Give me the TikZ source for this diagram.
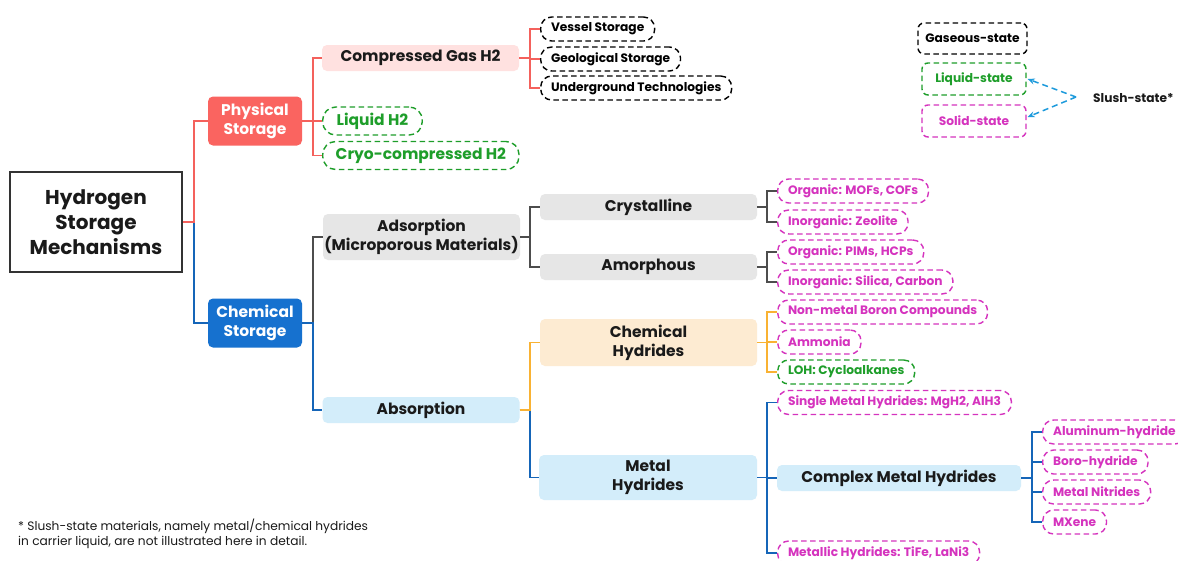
\documentclass[tikz,border=0pt]{standalone}
\usepackage{fontspec}
\setmainfont{Poppins}
\usetikzlibrary{arrows.meta}
\definecolor{cred}{HTML}{F4615C}
\definecolor{credbox}{HTML}{FA6460}
\definecolor{cpink}{HTML}{FFE1E0}
\definecolor{cblue}{HTML}{1671CF}
\definecolor{cbluel}{HTML}{1565B8}
\definecolor{clblue}{HTML}{D3EDFA}
\definecolor{cgray}{HTML}{4D4D4D}
\definecolor{clgray}{HTML}{E6E6E6}
\definecolor{corange}{HTML}{F9B233}
\definecolor{clorange}{HTML}{FDEBD2}
\definecolor{cgreen}{HTML}{1E9E2A}
\definecolor{cmag}{HTML}{D533BE}
\definecolor{cslush}{HTML}{1E9BDC}
\definecolor{ctext}{HTML}{1A1A1A}
\begin{document}
\begin{tikzpicture}[x=1pt,y=-1pt,
 every node/.style={inner sep=0pt},
 rootbox/.style={draw=black!80, line width=1.3pt, fill=white, minimum width=172, minimum height=100, align=center, text=ctext, font=\bfseries\fontsize{20}{25}\selectfont},
 lvone/.style={fill=#1, text=white, rounded corners=5pt, minimum width=94, minimum height=49, align=center, font=\bfseries\fontsize{15.5}{19}\selectfont},
 lvtwo/.style={fill=#1, rounded corners=5pt, align=center, text=ctext, font=\bfseries\fontsize{15.5}{19}\selectfont},
 leaf/.style={draw=#1, text=#1, dash pattern=on 5.5pt off 3.5pt, line width=1.4pt, rounded corners=11pt, minimum height=24, anchor=west, inner xsep=10.3pt, font=\bfseries\fontsize{12.2}{14}\selectfont},
 bigleaf/.style={leaf=#1, minimum height=28, rounded corners=13pt, inner xsep=14pt, font=\bfseries\fontsize{15.5}{19}\selectfont},
 legbox/.style={draw=#1, text=#1, dash pattern=on 5.5pt off 3.5pt, line width=1.4pt, rounded corners=6pt, font=\bfseries\fontsize{12.2}{14}\selectfont},
 link/.style={draw=#1, line width=1.8pt},
]
\fill[white] (0,0) rectangle (1178,560);
\useasboundingbox (0,0) rectangle (1178,560);

% nodes
\node[rootbox] (root) at (96,222) {Hydrogen\\Storage\\Mechanisms};
\node[lvone=credbox] (phys) at (255,121) {Physical\\Storage};
\node[lvone=cblue] (chem) at (255,323) {Chemical\\Storage};

\node[lvtwo=cpink, minimum width=197, minimum height=26] (cgas) at (420.5,58) {Compressed Gas H2};
\node[bigleaf=cgreen] (liq) at (322,121) {Liquid H2};
\node[bigleaf=cgreen, inner xsep=13pt] (cryo) at (322,155.5) {Cryo-compressed H2};
\node[leaf=black] (vessel) at (540,29) {Vessel Storage};
\node[leaf=black] (geo) at (540,59) {Geological Storage};
\node[leaf=black] (under) at (540,88) {Underground Technologies};

\node[lvtwo=clgray, minimum width=197, minimum height=46] (ads) at (421.5,237) {Adsorption\\(Microporous Materials)};
\node[lvtwo=clgray, minimum width=217, minimum height=26] (cryst) at (648.5,207) {Crystalline};
\node[lvtwo=clgray, minimum width=217, minimum height=26] (amor) at (648.5,267) {Amorphous};
\node[leaf=cmag] (mof) at (777,191) {Organic: MOFs, COFs};
\node[leaf=cmag] (zeo) at (777,222) {Inorganic: Zeolite};
\node[leaf=cmag] (pim) at (777,252) {Organic: PIMs, HCPs};
\node[leaf=cmag] (sil) at (777,282) {Inorganic: Silica, Carbon};

\node[lvtwo=clblue, minimum width=197, minimum height=26] (abso) at (421,410) {Absorption};
\node[lvtwo=clorange, minimum width=217, minimum height=47] (chyd) at (648.5,342.5) {Chemical\\Hydrides};
\node[leaf=cmag] (nonm) at (777,312) {Non-metal Boron Compounds};
\node[leaf=cmag] (amm) at (777,342) {Ammonia};
\node[leaf=cgreen] (loh) at (777,372) {LOH: Cycloalkanes};

\node[lvtwo=clblue, minimum width=218, minimum height=45] (mhyd) at (648,477.5) {Metal\\Hydrides};
\node[leaf=cmag] (smh) at (777,402.5) {Single Metal Hydrides: MgH2, AlH3};
\node[lvtwo=clblue, minimum width=244, minimum height=26] (cmh) at (899,478) {Complex Metal Hydrides};
\node[leaf=cmag] (mth) at (777,553) {Metallic Hydrides: TiFe, LaNi3};
\node[leaf=cmag] (alh) at (1042,432) {Aluminum-hydride};
\node[leaf=cmag] (boro) at (1042,462) {Boro-hydride};
\node[leaf=cmag] (mnit) at (1042,492) {Metal Nitrides};
\node[leaf=cmag] (mxe) at (1042,522) {MXene};

% legend
\node[legbox=black, minimum width=109, minimum height=31] (gas) at (972.5,38.5) {Gaseous-state};
\node[legbox=cgreen, minimum width=104, minimum height=32] (liqs) at (974,79) {Liquid-state};
\node[legbox=cmag, minimum width=104, minimum height=32] (sol) at (974,121) {Solid-state};
\node[anchor=west, text=ctext, font=\bfseries\fontsize{12.2}{14}\selectfont] (slush) at (1093,98) {Slush-state*};
\coordinate (sl) at (1076,97);
\draw[cslush, line width=1.5pt, dash pattern=on 6pt off 4pt, -{Stealth[length=7pt,width=6pt]}] (sl) -- ([xshift=1pt]liqs.east);
\draw[cslush, line width=1.5pt, dash pattern=on 6pt off 4pt, -{Stealth[length=7pt,width=6pt]}] (sl) -- ([xshift=1pt,yshift=4pt]sol.east);

% footnote
\node[anchor=west, align=left, text=ctext, font=\fontsize{12.2}{14.5}\selectfont] (note) at (18,534) {* Slush-state materials, namely metal/chemical hydrides\\in carrier liquid, are not illustrated here in detail.};

% connectors
\draw[link=cbluel] (root.east) -- ++(11,0) |- (chem.west);
\draw[link=cred] (root.east) -- ++(11,0) |- (phys.west);
\foreach \c in {cgas,liq,cryo} \draw[link=cred] (phys.east) -- ++(11,0) |- (\c.west);
\foreach \c in {vessel,geo,under} \draw[link=cred] (cgas.east) -- ++(11,0) |- (\c.west);
\draw[link=cgray] (chem.east) -- ++(11,0) |- (ads.west);
\draw[link=cbluel] (chem.east) -- ++(11,0) |- (abso.west);
\foreach \c in {cryst,amor} \draw[link=cgray] (ads.east) -- ++(10,0) |- (\c.west);
\foreach \c in {mof,zeo} \draw[link=cgray] (cryst.east) -- ++(10,0) |- (\c.west);
\foreach \c in {pim,sil} \draw[link=cgray] (amor.east) -- ++(10,0) |- (\c.west);
\draw[link=cbluel] (abso.east) -- ++(10,0) |- (mhyd.west);
\draw[link=corange] (abso.east) -- ++(10,0) |- (chyd.west);
\foreach \c in {nonm,amm,loh} \draw[link=corange] (chyd.east) -- ++(10,0) |- (\c.west);
\foreach \c in {smh,cmh,mth} \draw[link=cbluel] (mhyd.east) -- ++(10,0) |- (\c.west);
\foreach \c in {alh,boro,mnit,mxe} \draw[link=cbluel] (cmh.east) -- ++(11,0) |- (\c.west);
\end{tikzpicture}
\end{document}
